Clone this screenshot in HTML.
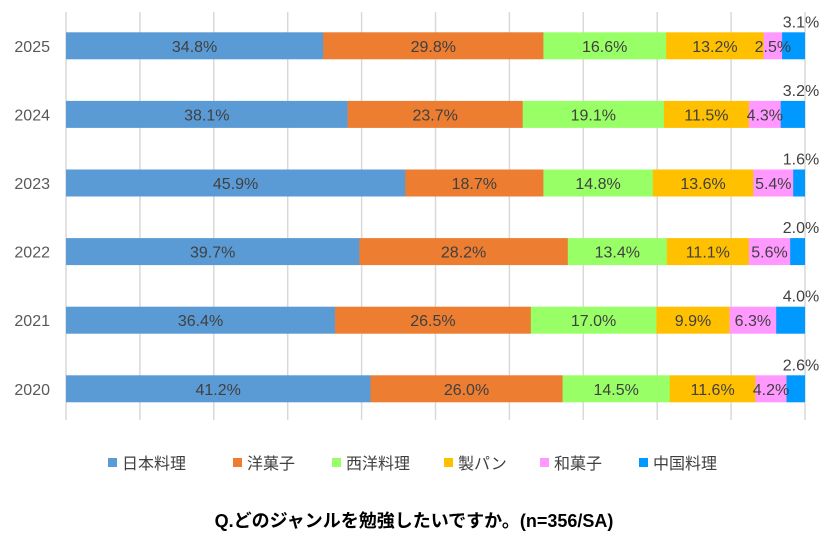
<!DOCTYPE html>
<html><head><meta charset="utf-8"><style>
body{margin:0;background:#fff;width:828px;height:544px;overflow:hidden}
svg{display:block}
text{font-family:"Liberation Sans","Noto Sans CJK JP",sans-serif}
</style></head><body>
<svg width="828" height="544" viewBox="0 0 828 544" xmlns="http://www.w3.org/2000/svg">
<g stroke="#d9d9d9" stroke-width="1.5">
<line x1="66" y1="12" x2="66" y2="420"/><line x1="139.9" y1="12" x2="139.9" y2="420"/><line x1="213.8" y1="12" x2="213.8" y2="420"/><line x1="287.7" y1="12" x2="287.7" y2="420"/><line x1="361.6" y1="12" x2="361.6" y2="420"/><line x1="435.5" y1="12" x2="435.5" y2="420"/><line x1="509.4" y1="12" x2="509.4" y2="420"/><line x1="583.3" y1="12" x2="583.3" y2="420"/><line x1="657.2" y1="12" x2="657.2" y2="420"/><line x1="731.1" y1="12" x2="731.1" y2="420"/><line x1="805" y1="12" x2="805" y2="420"/>
</g>
<g font-size="16" fill="#595959" text-anchor="end">
<text x="50" y="51.8">2025</text><text x="50" y="120.4">2024</text><text x="50" y="189">2023</text><text x="50" y="257.6">2022</text><text x="50" y="326.2">2021</text><text x="50" y="394.8">2020</text>
</g>
<g transform="translate(0,32.3)">
<rect x="66" y="0" width="257.5" height="27" fill="#5b9bd5"/><rect x="323.2" y="0" width="220.5" height="27" fill="#ed7d31"/><rect x="543.4" y="0" width="123" height="27" fill="#99ff66"/><rect x="666.1" y="0" width="97.8" height="27" fill="#ffc000"/><rect x="763.6" y="0" width="18.8" height="27" fill="#ff99ff"/><rect x="782.1" y="0" width="22.9" height="27" fill="#0099ff"/>
</g>
<g transform="translate(0,100.9)">
<rect x="66" y="0" width="281.9" height="27" fill="#5b9bd5"/><rect x="347.6" y="0" width="175.4" height="27" fill="#ed7d31"/><rect x="522.7" y="0" width="141.5" height="27" fill="#99ff66"/><rect x="663.9" y="0" width="85.3" height="27" fill="#ffc000"/><rect x="748.9" y="0" width="32.1" height="27" fill="#ff99ff"/><rect x="780.7" y="0" width="24.3" height="27" fill="#0099ff"/>
</g>
<g transform="translate(0,169.5)">
<rect x="66" y="0" width="339.5" height="27" fill="#5b9bd5"/><rect x="405.2" y="0" width="138.5" height="27" fill="#ed7d31"/><rect x="543.4" y="0" width="109.7" height="27" fill="#99ff66"/><rect x="652.8" y="0" width="100.8" height="27" fill="#ffc000"/><rect x="753.3" y="0" width="40.2" height="27" fill="#ff99ff"/><rect x="793.2" y="0" width="11.8" height="27" fill="#0099ff"/>
</g>
<g transform="translate(0,238.1)">
<rect x="66" y="0" width="293.7" height="27" fill="#5b9bd5"/><rect x="359.4" y="0" width="208.7" height="27" fill="#ed7d31"/><rect x="567.8" y="0" width="99.3" height="27" fill="#99ff66"/><rect x="666.8" y="0" width="82.3" height="27" fill="#ffc000"/><rect x="748.8" y="0" width="41.7" height="27" fill="#ff99ff"/><rect x="790.2" y="0" width="14.8" height="27" fill="#0099ff"/>
</g>
<g transform="translate(0,306.7)">
<rect x="66" y="0" width="269.3" height="27" fill="#5b9bd5"/><rect x="335" y="0" width="196.1" height="27" fill="#ed7d31"/><rect x="530.8" y="0" width="125.9" height="27" fill="#99ff66"/><rect x="656.4" y="0" width="73.5" height="27" fill="#ffc000"/><rect x="729.6" y="0" width="46.9" height="27" fill="#ff99ff"/><rect x="776.2" y="0" width="28.8" height="27" fill="#0099ff"/>
</g>
<g transform="translate(0,375.3)">
<rect x="66" y="0" width="304.8" height="27" fill="#5b9bd5"/><rect x="370.5" y="0" width="192.4" height="27" fill="#ed7d31"/><rect x="562.6" y="0" width="107.4" height="27" fill="#99ff66"/><rect x="669.7" y="0" width="86" height="27" fill="#ffc000"/><rect x="755.4" y="0" width="31.4" height="27" fill="#ff99ff"/><rect x="786.5" y="0" width="18.5" height="27" fill="#0099ff"/>
</g>
<g font-size="16" fill="#404040" text-anchor="middle">
<text x="194.6" y="51.8">34.8%</text><text x="433.3" y="51.8">29.8%</text><text x="604.7" y="51.8">16.6%</text><text x="714.9" y="51.8">13.2%</text><text x="772.9" y="51.8">2.5%</text><text x="801" y="27.3">3.1%</text>
<text x="206.8" y="120.4">38.1%</text><text x="435.2" y="120.4">23.7%</text><text x="593.3" y="120.4">19.1%</text><text x="706.4" y="120.4">11.5%</text><text x="764.8" y="120.4">4.3%</text><text x="801" y="95.9">3.2%</text>
<text x="235.6" y="189">45.9%</text><text x="474.3" y="189">18.7%</text><text x="598.1" y="189">14.8%</text><text x="703.1" y="189">13.6%</text><text x="773.3" y="189">5.4%</text><text x="801" y="164.5">1.6%</text>
<text x="212.7" y="257.6">39.7%</text><text x="463.6" y="257.6">28.2%</text><text x="617.3" y="257.6">13.4%</text><text x="707.8" y="257.6">11.1%</text><text x="769.5" y="257.6">5.6%</text><text x="801" y="233.1">2.0%</text>
<text x="200.5" y="326.2">36.4%</text><text x="432.9" y="326.2">26.5%</text><text x="593.6" y="326.2">17.0%</text><text x="693" y="326.2">9.9%</text><text x="752.9" y="326.2">6.3%</text><text x="801" y="301.7">4.0%</text>
<text x="218.2" y="394.8">41.2%</text><text x="466.5" y="394.8">26.0%</text><text x="616.2" y="394.8">14.5%</text><text x="712.6" y="394.8">11.6%</text><text x="771" y="394.8">4.2%</text><text x="801" y="370.3">2.6%</text>
</g>
<g font-size="16" fill="#404040">
<rect x="108" y="458" width="9" height="9" fill="#5b9bd5"/><text x="122" y="469">日本料理</text>
<rect x="233" y="458" width="9" height="9" fill="#ed7d31"/><text x="247" y="469">洋菓子</text>
<rect x="332" y="458" width="9" height="9" fill="#99ff66"/><text x="346" y="469">西洋料理</text>
<rect x="444" y="458" width="9" height="9" fill="#ffc000"/><text x="458" y="469">製パン</text>
<rect x="540" y="458" width="9" height="9" fill="#ff99ff"/><text x="554" y="469">和菓子</text>
<rect x="639" y="458" width="9" height="9" fill="#0099ff"/><text x="653" y="469">中国料理</text>
</g>
<text x="414" y="527" text-anchor="middle" font-size="18" font-weight="bold" fill="#000">Q.どのジャンルを勉強したいですか。(n=356/SA)</text>
</svg>
</body></html>
